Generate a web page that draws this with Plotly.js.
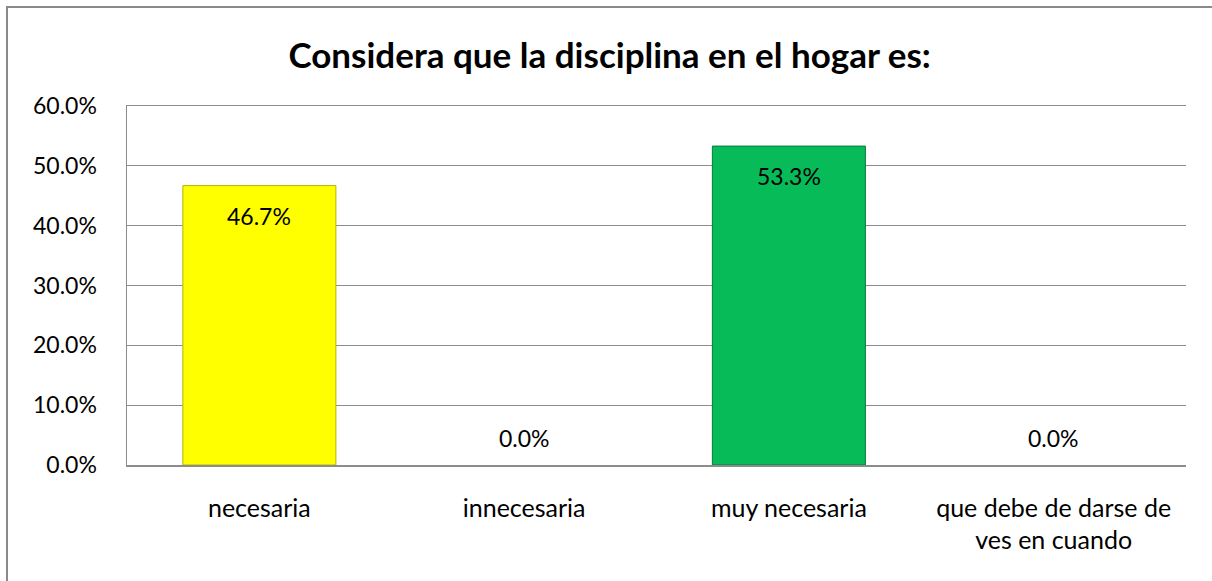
<!DOCTYPE html>
<html>
<head>
<meta charset="utf-8">
<script src="https://cdn.plot.ly/plotly-3.0.1.min.js"></script>
<style>
html, body { margin: 0; padding: 0; background: #ffffff; overflow: hidden; }
#wrap { position: relative; width: 1212px; height: 581px; overflow: hidden; }
#chart { position: absolute; left: 0; top: 0; width: 1212px; height: 581px; }
#frame { position: absolute; left: 6px; top: 6px; width: 1400px; height: 800px;
         border-left: 2px solid #8A8A8A; border-top: 2px solid #8A8A8A; pointer-events: none; }
</style>
</head>
<body>
<div id="wrap">
<div id="chart"></div>
<div id="frame"></div>
</div>
<script>
const categories = ["necesaria", "innecesaria", "muy necesaria", "que debe de darse de<br>ves en cuando"];
const values = [0.467, 0.0, 0.533, 0.0];
const barColors = ["#FFFF00", "#FFFF00", "#07BB58", "#07BB58"];
const lineColors = ["#B5B500", "#B5B500", "#067A3C", "#067A3C"];
const tickVals = [0, 0.1, 0.2, 0.3, 0.4, 0.5, 0.6];
const titleText = "Considera que la disciplina en el hogar es:";

const FONT = "Lato, 'Open Sans', sans-serif";

const trace = {
  type: "bar",
  x: categories,
  y: values,
  marker: {
    color: barColors,
    line: { color: lineColors, width: values.map(v => (v > 0 ? 1 : 0)) }
  },
  hoverinfo: "none",
  showlegend: false
};

const annotations = values.map((v, i) => ({
  x: categories[i],
  y: v,
  xref: "x",
  yref: "y",
  text: (v * 100).toFixed(1) + "%",
  showarrow: false,
  yshift: v > 0 ? -30 : 27,
  font: { family: FONT, size: 23, color: "#000000" }
}));

const layout = {
  width: 1212,
  height: 581,
  margin: { l: 127, r: 26, t: 106, b: 116 },
  paper_bgcolor: "#ffffff",
  plot_bgcolor: "#ffffff",
  bargap: 0.422,
  title: {
    text: "<b>" + titleText + "</b>",
    font: { family: FONT, size: 35, color: "#000000" },
    x: 0.503,
    xanchor: "center",
    y: 0.904,
    yanchor: "middle"
  },
  xaxis: {
    type: "category",
    showline: true,
    mirror: true,
    linecolor: "#8C8C8C",
    linewidth: 1.5,
    showgrid: false,
    ticks: "",
    ticklabelstandoff: 20,
    tickfont: { family: FONT, size: 25, color: "#000000" },
    fixedrange: true
  },
  yaxis: {
    range: [0, 0.6],
    tickvals: tickVals,
    tickformat: ".1%",
    showline: true,
    linecolor: "#8C8C8C",
    linewidth: 1.5,
    showgrid: true,
    gridcolor: "#8C8C8C",
    gridwidth: 1.3,
    zeroline: false,
    ticks: "",
    ticklabelstandoff: 24,
    tickfont: { family: FONT, size: 23, color: "#000000" },
    fixedrange: true
  },
  annotations: annotations
};

Plotly.newPlot("chart", [trace], layout, { displayModeBar: false, staticPlot: true });
</script>
</body>
</html>
